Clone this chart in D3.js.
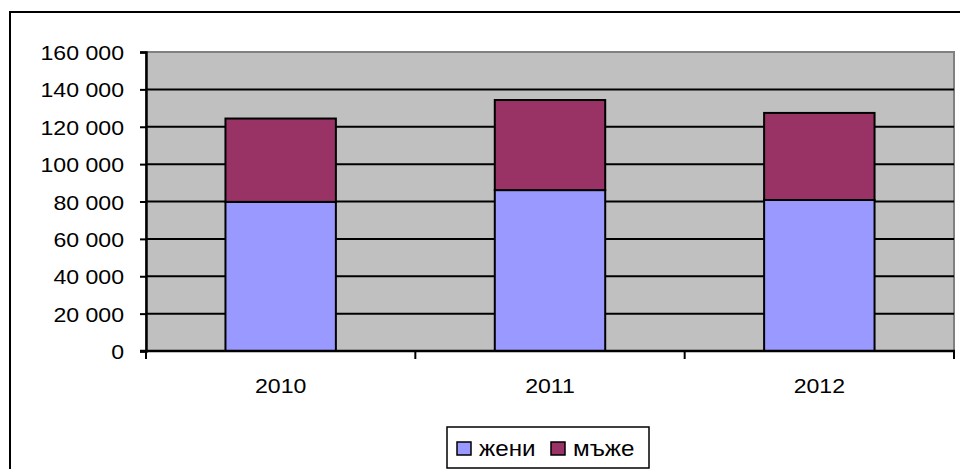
<!DOCTYPE html>
<html>
<head>
<meta charset="utf-8">
<script src="https://cdn.jsdelivr.net/npm/d3@7"></script>
<style>
  body { margin: 0; background: #fff; }
  text { font-family: "Liberation Sans", Arial, sans-serif; fill: #000; }
</style>
</head>
<body>
<svg id="chart" width="960" height="469"></svg>
<script>
const years = ['2010', '2011', '2012']
const women = [79800, 86100, 80800]
const men = [44600, 48200, 46600]
const seriesNames = ['жени', 'мъже']
const seriesColors = ['#9999ff', '#993366']
const yTicks = [0, 20000, 40000, 60000, 80000, 100000, 120000, 140000, 160000]

const svg = d3.select('#chart')

// outer chart frame (right and bottom edges run off the page)
svg.append('rect')
    .attr('x', 10).attr('y', 12).attr('width', 980).attr('height', 500)
    .attr('fill', '#fff').attr('stroke', '#000').attr('stroke-width', 2)

const plot = {left: 146, top: 52, right: 954, bottom: 351}

const x = d3.scaleBand().domain(years).range([plot.left, plot.right]).paddingInner(0.59).paddingOuter(0.295)
const xTick = d3.scaleBand().domain(years).range([plot.left, plot.right])
const y = d3.scaleLinear().domain([0, 160000]).range([plot.bottom, plot.top])

svg.append('rect')
    .attr('x', plot.left).attr('y', plot.top)
    .attr('width', plot.right - plot.left).attr('height', plot.bottom - plot.top)
    .attr('fill', '#c0c0c0').attr('stroke', '#808080').attr('stroke-width', 2)

// gridlines
svg.append('g').selectAll('line')
    .data(yTicks.filter(d => d > 0 && d < 160000))
    .join('line')
    .attr('x1', plot.left).attr('x2', plot.right)
    .attr('y1', d => y(d)).attr('y2', d => y(d))
    .attr('stroke', '#000').attr('stroke-width', 2)

// stacked bars
const rows = years.map((yr, i) => ({year: yr, 'жени': women[i], 'мъже': men[i]}))
const stack = d3.stack().keys(seriesNames)(rows)

svg.append('g').selectAll('g')
    .data(stack)
    .join('g')
    .attr('fill', (d, i) => seriesColors[i])
    .selectAll('rect')
    .data(d => d)
    .join('rect')
    .attr('x', d => x(d.data.year))
    .attr('width', x.bandwidth())
    .attr('y', d => y(d[1]))
    .attr('height', d => y(d[0]) - y(d[1]))
    .attr('stroke', '#000').attr('stroke-width', 2)

// y axis
const yAxis = svg.append('g')
    .attr('transform', `translate(${plot.left},0)`)
    .call(d3.axisLeft(y).tickValues(yTicks).tickSize(6).tickPadding(0)
        .tickFormat(d => d3.format(',')(d).replace(/,/g, ' ')))
yAxis.select('.domain').attr('stroke', '#000').attr('stroke-width', 2.5)
yAxis.selectAll('.tick line').attr('stroke', '#000').attr('stroke-width', 2)
yAxis.selectAll('.tick text')
    .attr('x', 0).attr('dy', '0.36em').attr('font-size', 21)
    .attr('transform', 'translate(-22,0) scale(1.1,1)')

// x axis
const xAxis = svg.append('g')
    .attr('transform', `translate(0,${plot.bottom})`)
xAxis.append('line')
    .attr('x1', plot.left - 6).attr('x2', plot.right + 1)
    .attr('stroke', '#000').attr('stroke-width', 2.5)
xAxis.selectAll('line.tk')
    .data(years.map(d => xTick(d)).concat([plot.right]))
    .join('line').attr('class', 'tk')
    .attr('x1', d => d).attr('x2', d => d)
    .attr('y1', 0).attr('y2', 8)
    .attr('stroke', '#000').attr('stroke-width', 2)
xAxis.selectAll('text')
    .data(years)
    .join('text')
    .attr('transform', d => `translate(${x(d) + x.bandwidth() / 2},42) scale(1.1,1)`)
    .attr('text-anchor', 'middle').attr('font-size', 21)
    .text(d => d)

// legend
const legend = svg.append('g')
legend.append('rect')
    .attr('x', 447).attr('y', 427).attr('width', 202).attr('height', 41)
    .attr('fill', '#fff').attr('stroke', '#000').attr('stroke-width', 1.5)
const items = legend.selectAll('g.item')
    .data(seriesNames)
    .join('g').attr('class', 'item')
    .attr('transform', (d, i) => `translate(${[457, 551][i]},442)`)
items.append('rect')
    .attr('width', 14).attr('height', 13)
    .attr('fill', (d, i) => seriesColors[i])
    .attr('stroke', '#000').attr('stroke-width', 1.5)
items.append('text')
    .attr('transform', 'translate(22,14) scale(1.1,1)')
    .attr('font-size', 22)
    .text(d => d)
</script>
</body>
</html>
